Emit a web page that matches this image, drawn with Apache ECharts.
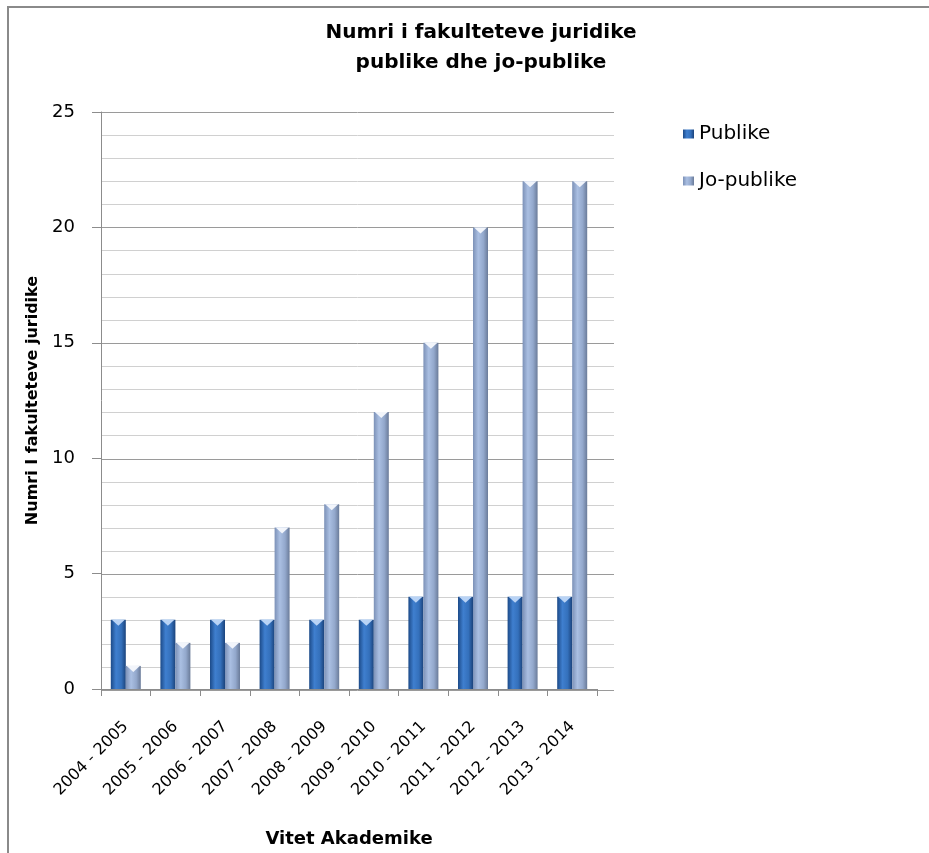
<!DOCTYPE html>
<html><head><meta charset="utf-8">
<script src="https://cdn.jsdelivr.net/npm/echarts@6/dist/echarts.min.js"></script>
<style>html,body{margin:0;padding:0;background:#fff}#c{width:929px;height:853px}</style>
</head><body><div id="c"></div>
<script>
const categories = ['2004 - 2005','2005 - 2006','2006 - 2007','2007 - 2008','2008 - 2009','2009 - 2010','2010 - 2011','2011 - 2012','2012 - 2013','2013 - 2014'];
const publike = [3,3,3,3,3,3,4,4,4,4];
const joPublike = [1,2,2,7,8,12,15,20,22,22];
const yTicks = [0,5,10,15,20,25];

const FONT = 'DejaVu Sans';
const gradBlue = new echarts.graphic.LinearGradient(0,0,1,0,[
  {offset:0,color:'#1c4a88'},{offset:0.35,color:'#3f7fcf'},{offset:0.7,color:'#3470bb'},{offset:1,color:'#1b437c'}]);
const gradGray = new echarts.graphic.LinearGradient(0,0,1,0,[
  {offset:0,color:'#7c91b7'},{offset:0.35,color:'#aabfe2'},{offset:0.7,color:'#93a8cc'},{offset:1,color:'#6a7b99'}]);
const TRI = 'path://M0,0 L10,0 L5,6 Z';

const chart = echarts.init(document.getElementById('c'), null, {renderer:'canvas'});
chart.setOption({
  backgroundColor:'#fff',
  animation:false,
  graphic:[{type:'rect',shape:{x:8,y:7,width:1000,height:1000},style:{fill:'none',stroke:'#8a8a8a',lineWidth:2},silent:true}],
  title:{text:'Numri i fakulteteve juridike\npublike dhe jo-publike',left:476,top:13,textAlign:'center',
    textStyle:{fontFamily:FONT,fontSize:20,fontWeight:'bold',color:'#000',lineHeight:30}},
  legend:{orient:'vertical',left:678,top:119,itemGap:27,itemWidth:11,itemHeight:9,icon:'rect',
    data:['Publike','Jo-publike'],textStyle:{fontFamily:FONT,fontSize:20,color:'#000'}},
  grid:[
    {left:101,top:112,width:496,height:578,containLabel:false},
    {left:101,top:112,width:513,height:578,containLabel:false}
  ],
  xAxis:[
    {type:'category',gridIndex:0,data:categories,
     axisLine:{lineStyle:{color:'#8c8c8c',width:1}},
     axisTick:{show:true,length:7,lineStyle:{color:'#8c8c8c'}},
     axisLabel:{rotate:45,fontFamily:FONT,fontSize:16,color:'#000',margin:35,interval:0},
     name:'Vitet Akademike',nameLocation:'middle',nameGap:141,
     nameTextStyle:{fontFamily:FONT,fontSize:18,fontWeight:'bold',color:'#000'}},
    {type:'value',gridIndex:1,show:false,min:0,max:1}
  ],
  yAxis:[
    {type:'value',gridIndex:0,min:0,max:25,interval:5,
     axisLine:{show:true,lineStyle:{color:'#8c8c8c'}},
     axisTick:{show:true,length:9,lineStyle:{color:'#8c8c8c'}},
     splitLine:{show:false},
     axisLabel:{fontFamily:FONT,fontSize:18,color:'#000',margin:26,
       formatter:v=>yTicks.includes(v)?String(v):''},
     name:'Numri I fakulteteve juridike',nameLocation:'middle',nameGap:60,
     nameTextStyle:{fontFamily:FONT,fontSize:16,fontWeight:'bold',color:'#000'}},
    {type:'value',gridIndex:1,min:0,max:25,interval:5,
     axisLine:{show:false},axisTick:{show:false},axisLabel:{show:false},
     splitLine:{show:true,lineStyle:{color:'#9a9a9a',width:1}},
     minorSplitLine:{show:true,lineStyle:{color:'#d0d0d0',width:1}},
     minorTick:{show:false,splitNumber:5}}
  ],
  series:[
    {name:'Publike',type:'bar',xAxisIndex:0,yAxisIndex:0,data:publike,barWidth:15,barGap:'0%',
     itemStyle:{color:gradBlue},z:3},
    {name:'Jo-publike',type:'bar',xAxisIndex:0,yAxisIndex:0,data:joPublike,barWidth:15,barGap:'0%',
     itemStyle:{color:gradGray},z:3},
    {name:'top-publike',type:'pictorialBar',xAxisIndex:0,yAxisIndex:0,data:publike,barWidth:15,barGap:'0%',
     symbol:TRI,symbolPosition:'end',symbolSize:[13,6],symbolOffset:[0,0],
     itemStyle:{color:'#b9d3f5'},z:4,silent:true},
    {name:'top-jo',type:'pictorialBar',xAxisIndex:0,yAxisIndex:0,data:joPublike,barWidth:15,barGap:'0%',
     symbol:TRI,symbolPosition:'end',symbolSize:[13,6],symbolOffset:[0,0],
     itemStyle:{color:'#f2f5fb'},z:4,silent:true}
  ]
});
</script></body></html>
